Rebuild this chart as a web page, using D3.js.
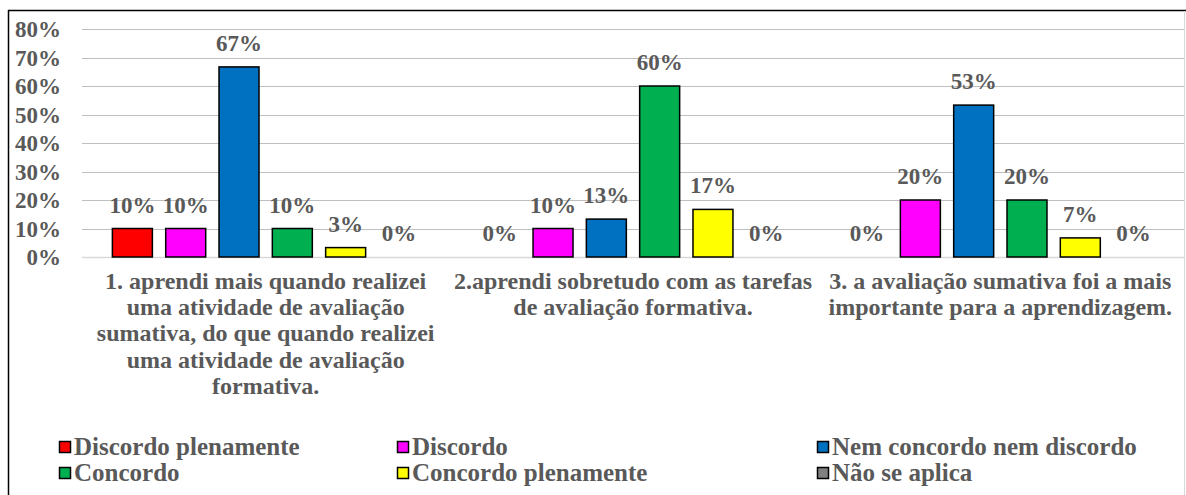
<!DOCTYPE html>
<html>
<head>
<meta charset="utf-8">
<script src="https://cdn.jsdelivr.net/npm/d3@7"></script>
</head>
<body style="margin:0">
<svg id="chart" width="1186" height="495"></svg>
<script>
// data
const categories = ['q1', 'q2', 'q3']
const categoryLines = [
  ['1. aprendi mais quando realizei', 'uma atividade de avaliação', 'sumativa, do que quando realizei', 'uma atividade de avaliação', 'formativa.'],
  ['2.aprendi sobretudo com as tarefas', 'de avaliação formativa.'],
  ['3. a avaliação sumativa foi a mais', 'importante para a aprendizagem.']
]
const series = ['Discordo plenamente', 'Discordo', 'Nem concordo nem discordo', 'Concordo', 'Concordo plenamente', 'Não se aplica']
const colors = ['#ff0000', '#ff00ff', '#0070c0', '#00b050', '#ffff00', '#808080']
const discordoPlenamente = [10, 0, 0]
const discordo = [10, 10, 20]
const nemNem = [66.7, 13.3, 53.3]
const concordo = [10, 60, 20]
const concordoPlenamente = [3.3, 16.7, 6.7]
const naoSeAplica = [0, 0, 0]
const yTicks = [0, 10, 20, 30, 40, 50, 60, 70, 80]

const seriesValues = [discordoPlenamente, discordo, nemNem, concordo, concordoPlenamente, naoSeAplica]

const textColor = '#595959'

const svg = d3.select('#chart')

const plot = { left: 82, right: 1184, top: 29, bottom: 257 }

const x0 = d3.scaleBand()
  .domain(categories)
  .range([plot.left, plot.right])
const x1 = d3.scaleBand()
  .domain(series)
  .range([0, x0.bandwidth()])
  .paddingInner(0.25)
  .paddingOuter(0.57)
const y = d3.scaleLinear()
  .domain([0, 80])
  .range([plot.bottom, plot.top])

// chart border
svg.append('line').attr('x1', 8).attr('x2', 1186).attr('y1', 10.5).attr('y2', 10.5)
  .attr('stroke', '#000').attr('stroke-width', 1.5)
svg.append('line').attr('x1', 8.5).attr('x2', 8.5).attr('y1', 10).attr('y2', 495)
  .attr('stroke', '#000').attr('stroke-width', 1.5)
svg.append('line').attr('x1', 1184.5).attr('x2', 1184.5).attr('y1', 11).attr('y2', 495)
  .attr('stroke', '#d9d9d9').attr('stroke-width', 1)

// gridlines
svg.append('g')
  .selectAll('line')
  .data(yTicks)
  .enter()
  .append('line')
  .attr('x1', plot.left)
  .attr('x2', plot.right)
  .attr('y1', d => Math.round(y(d)) + 0.5)
  .attr('y2', d => Math.round(y(d)) + 0.5)
  .attr('stroke', d => d === 0 ? '#d9d9d9' : '#bfbfbf')
  .attr('stroke-width', d => d === 0 ? 1.5 : 1)

// y axis labels, drawn as plain text from the scale
svg.append('g')
  .selectAll('text')
  .data(yTicks)
  .enter()
  .append('text')
  .attr('x', plot.left - 21)
  .attr('y', d => y(d) + 8)
  .attr('text-anchor', 'end')
  .attr('font-family', 'Liberation Serif')
  .attr('font-weight', 'bold')
  .attr('font-size', 23)
  .attr('fill', textColor)
  .text(d => d + '%')

// bars
const groups = svg.append('g')
  .selectAll('g')
  .data(categories)
  .enter()
  .append('g')
  .attr('transform', d => 'translate(' + x0(d) + ',0)')

groups.selectAll('rect')
  .data((c, i) => series.map((s, j) => ({ s: s, v: seriesValues[j][i], color: colors[j] })))
  .enter()
  .append('rect')
  .filter(d => d.v > 0)
  .attr('x', d => x1(d.s))
  .attr('width', x1.bandwidth())
  .attr('y', d => y(d.v))
  .attr('height', d => y(0) - y(d.v))
  .attr('fill', d => d.color)
  .attr('stroke', '#000')
  .attr('stroke-width', 1.5)

groups.selectAll('text')
  .data((c, i) => series.map((s, j) => ({ s: s, v: seriesValues[j][i] })))
  .enter()
  .append('text')
  .attr('x', d => x1(d.s) + x1.bandwidth() / 2)
  .attr('y', d => y(d.v) - 16)
  .attr('text-anchor', 'middle')
  .attr('font-family', 'Liberation Serif')
  .attr('font-weight', 'bold')
  .attr('font-size', 23)
  .attr('fill', textColor)
  .text(d => Math.round(d.v) + '%')

// category labels, one text per line
categories.forEach((c, i) => {
  svg.append('g')
    .selectAll('text')
    .data(categoryLines[i])
    .enter()
    .append('text')
    .attr('x', x0(c) + x0.bandwidth() / 2)
    .attr('y', (d, k) => 289 + k * 26.2)
    .attr('text-anchor', 'middle')
    .attr('font-family', 'Liberation Serif')
    .attr('font-weight', 'bold')
    .attr('font-size', 24)
    .attr('fill', textColor)
    .text(d => d)
})

// legend
const legendCols = [59, 397, 817]
const legendRows = [447, 473]
const legend = svg.append('g')
  .selectAll('g')
  .data(series)
  .enter()
  .append('g')
  .attr('transform', (d, i) => 'translate(' + legendCols[i % 3] + ',' + legendRows[Math.floor(i / 3)] + ')')

legend.append('rect')
  .attr('x', 0.5)
  .attr('y', -5.5)
  .attr('width', 11)
  .attr('height', 11)
  .attr('fill', (d, i) => colors[i])
  .attr('stroke', '#000')
  .attr('stroke-width', 1.5)

legend.append('text')
  .attr('x', 15)
  .attr('y', 8)
  .attr('font-family', 'Liberation Serif')
  .attr('font-weight', 'bold')
  .attr('font-size', 25)
  .attr('fill', textColor)
  .text(d => d)
</script>
</body>
</html>
